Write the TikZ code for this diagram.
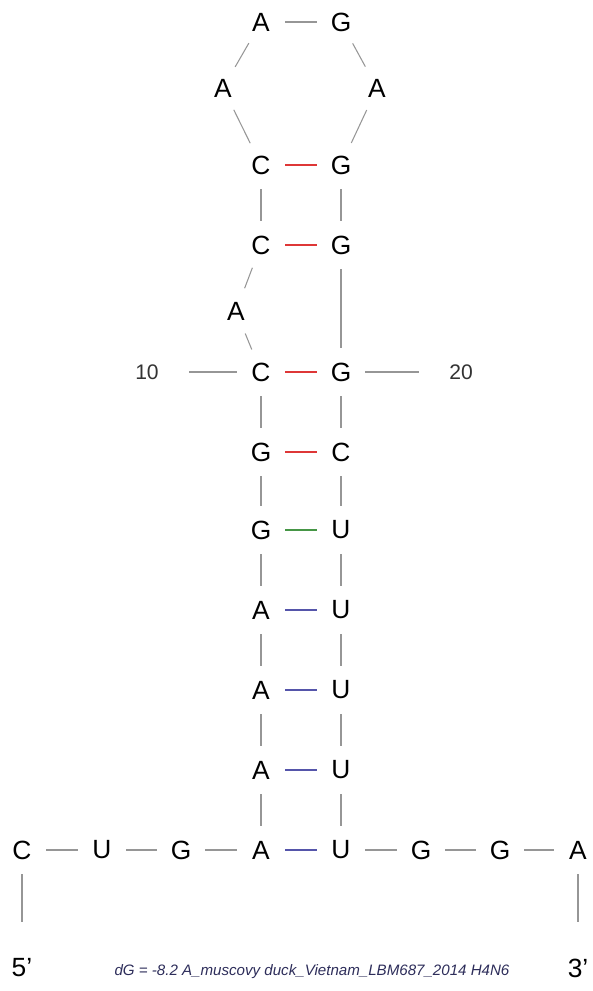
\documentclass[tikz,border=0pt]{standalone}
\usepackage{fontspec}
\setmainfont{Liberation Sans}
\definecolor{bbgray}{RGB}{150,150,150}
\definecolor{pairred}{RGB}{222,55,55}
\definecolor{pairgreen}{RGB}{70,150,70}
\definecolor{pairblue}{RGB}{85,85,170}
\definecolor{capblue}{RGB}{45,45,90}
\begin{document}
\begin{tikzpicture}[x=0.02cm, y=-0.02cm,
        nt/.style={circle, minimum size=0.96cm, inner sep=0pt, font=\fontsize{15}{18}\selectfont},
        bb/.style={draw=bbgray, line width=0.6pt},
        gc/.style={draw=pairred, line width=0.8pt},
        gu/.style={draw=pairgreen, line width=0.8pt},
        au/.style={draw=pairblue, line width=0.8pt},
        tick/.style={inner xsep=0.6cm, font=\fontsize{12}{14}\selectfont, text=black!80},
        endlabel/.style={inner xsep=0pt, inner ysep=0.72cm, font=\fontsize{15}{18}\selectfont}]
        \useasboundingbox (0, 0) rectangle (592, 991);
        % bottom row
        \node[nt](n1) at(22, 850){C};
        \node[nt](n2) at(102, 850){U};
        \node[nt](n3) at(181, 850){G};
        \node[nt](n4) at(261, 850){A};
        % left strand
        \node[nt](n5) at(261, 770){A};
        \node[nt](n6) at(261, 690){A};
        \node[nt](n7) at(261, 610){A};
        \node[nt](n8) at(261, 530){G};
        \node[nt](n9) at(261, 452){G};
        \node[nt](n10) at(261, 372){C};
        \node[nt](n11) at(236, 311){A};
        \node[nt](n12) at(261, 245){C};
        \node[nt](n13) at(261, 165){C};
        % hairpin loop
        \node[nt](n14) at(223, 88){A};
        \node[nt](n15) at(261, 22){A};
        \node[nt](n16) at(341, 22){G};
        \node[nt](n17) at(377, 88){A};
        % right strand
        \node[nt](n18) at(341, 165){G};
        \node[nt](n19) at(341, 245){G};
        \node[nt](n20) at(341, 372){G};
        \node[nt](n21) at(341, 452){C};
        \node[nt](n22) at(341, 530){U};
        \node[nt](n23) at(341, 610){U};
        \node[nt](n24) at(341, 690){U};
        \node[nt](n25) at(341, 770){U};
        \node[nt](n26) at(341, 850){U};
        \node[nt](n27) at(421, 850){G};
        \node[nt](n28) at(500, 850){G};
        \node[nt](n29) at(578, 850){A};
        % backbone
        \foreach \i in {1,...,28}{
            \pgfmathtruncatemacro\j{\i+1}
            \draw[bb](n\i)--(n\j);
        }
        % base pairs
        \draw[gc](n13)--(n18);
        \draw[gc](n12)--(n19);
        \draw[gc](n10)--(n20);
        \draw[gc](n9)--(n21);
        \draw[gu](n8)--(n22);
        \draw[au](n7)--(n23);
        \draw[au](n6)--(n24);
        \draw[au](n5)--(n25);
        \draw[au](n4)--(n26);
        % numbering
        \node[tick](t10) at(147, 372){10};
        \node[tick](t20) at(461, 372){20};
        \draw[bb](n10)--(t10);
        \draw[bb](n20)--(t20);
        % ends
        \node[endlabel](p5) at(22, 968){5’};
        \node[endlabel](p3) at(578, 968){3’};
        \draw[bb](n1)--(p5);
        \draw[bb](n29)--(p3);
        \node[text=capblue, font=\fontsize{8.6}{10}\selectfont\itshape](cap) at(312, 972){dG = -8.2 A\_muscovy duck\_Vietnam\_LBM687\_2014 H4N6};
\end{tikzpicture}
\end{document}
